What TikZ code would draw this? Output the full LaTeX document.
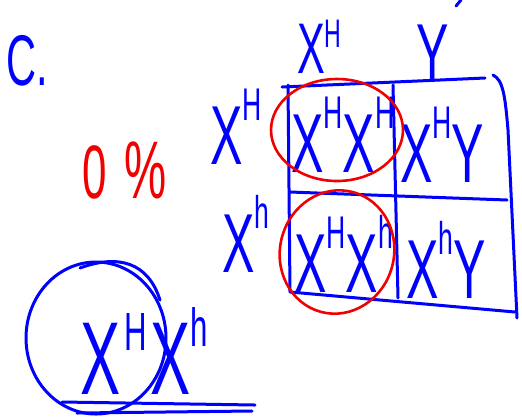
\documentclass[tikz,border=0pt]{standalone}
\usepackage{fontspec}
\newfontfamily\hand[FakeStretch=0.58]{Liberation Sans}
\definecolor{inkblue}{RGB}{0,0,255}
\definecolor{inkred}{RGB}{240,0,0}
\newcommand{\gupx}[3]{\raisebox{#1bp}{\fontsize{#2}{#2}\selectfont #3}}
\newcommand{\gup}[1]{\gupx{44}{46}{#1}}
\tikzset{
  bl/.style={draw=inkblue, line width=3bp, line cap=round, line join=round},
  rd/.style={draw=inkred, line width=2.6bp},
  txt/.style={anchor=base west, inner sep=0pt, text=inkblue, font=\hand\fontsize{84}{84}\selectfont},
  redtxt/.style={txt, text=inkred}
}
\begin{document}
\begin{tikzpicture}[x=1bp,y=-1bp]
\useasboundingbox (0,0) rectangle (522,417);
% labels
\node[txt, font=\hand\fontsize{72}{72}\selectfont] (c) at (6,85) {C.};
\node[redtxt, font=\hand\fontsize{76}{76}\selectfont] (pct) at (82,198) {0\hspace{18bp}\fontsize{82}{82}\selectfont\%};
\node[txt, font=\hand\fontsize{72}{72}\selectfont] (hx) at (297,73) {X\gupx{26}{40}{H}};
\node[txt] (hy) at (416,82) {Y};
\node[txt] (r1) at (210,164) {X\gup{H}};
\node[txt] (r2) at (222,272) {X\gup{h}};
% cells
\node[txt] (c11) at (291,172) {X\gup{H}X\gup{H}};
\node[txt] (c12) at (400,182) {X\gup{H}Y};
\node[txt] (c21) at (294,292) {X\gup{H}X\gup{h}};
\node[txt] (c22) at (406,298) {X\gup{h}Y};
% grid
\draw[bl] (282,87) -- (485,78);
\draw[bl] (288,85) -- (290,292) -- (515,312);
\draw[bl] (493,75) .. controls (503,80) and (505,95) .. (508,130) -- (517,318);
\draw[bl] (393,85) -- (398,298);
\draw[bl] (290,192) -- (507,200);
\draw[bl] (456,6) -- (461,0);
% red circles
\draw[rd] (337,130) ellipse [x radius=66, y radius=51];
\draw[rd, rotate around={-15:(337,252)}] (337,252) ellipse [x radius=57, y radius=62];
% bottom answer
\node[txt, font=\hand\fontsize{104}{104}\selectfont] (ans) at (80,394) {X\hspace{4bp}\gupx{44}{54}{H}\hspace{4bp}X\gupx{48}{54}{h}};
\draw[bl] (96,338) ellipse [x radius=70, y radius=76];
\draw[bl] (80,268) .. controls (118,254) and (148,262) .. (160,300);
\draw[bl] (62,402) -- (255,405);
\draw[bl] (77,413) -- (252,411);
\end{tikzpicture}
\end{document}
